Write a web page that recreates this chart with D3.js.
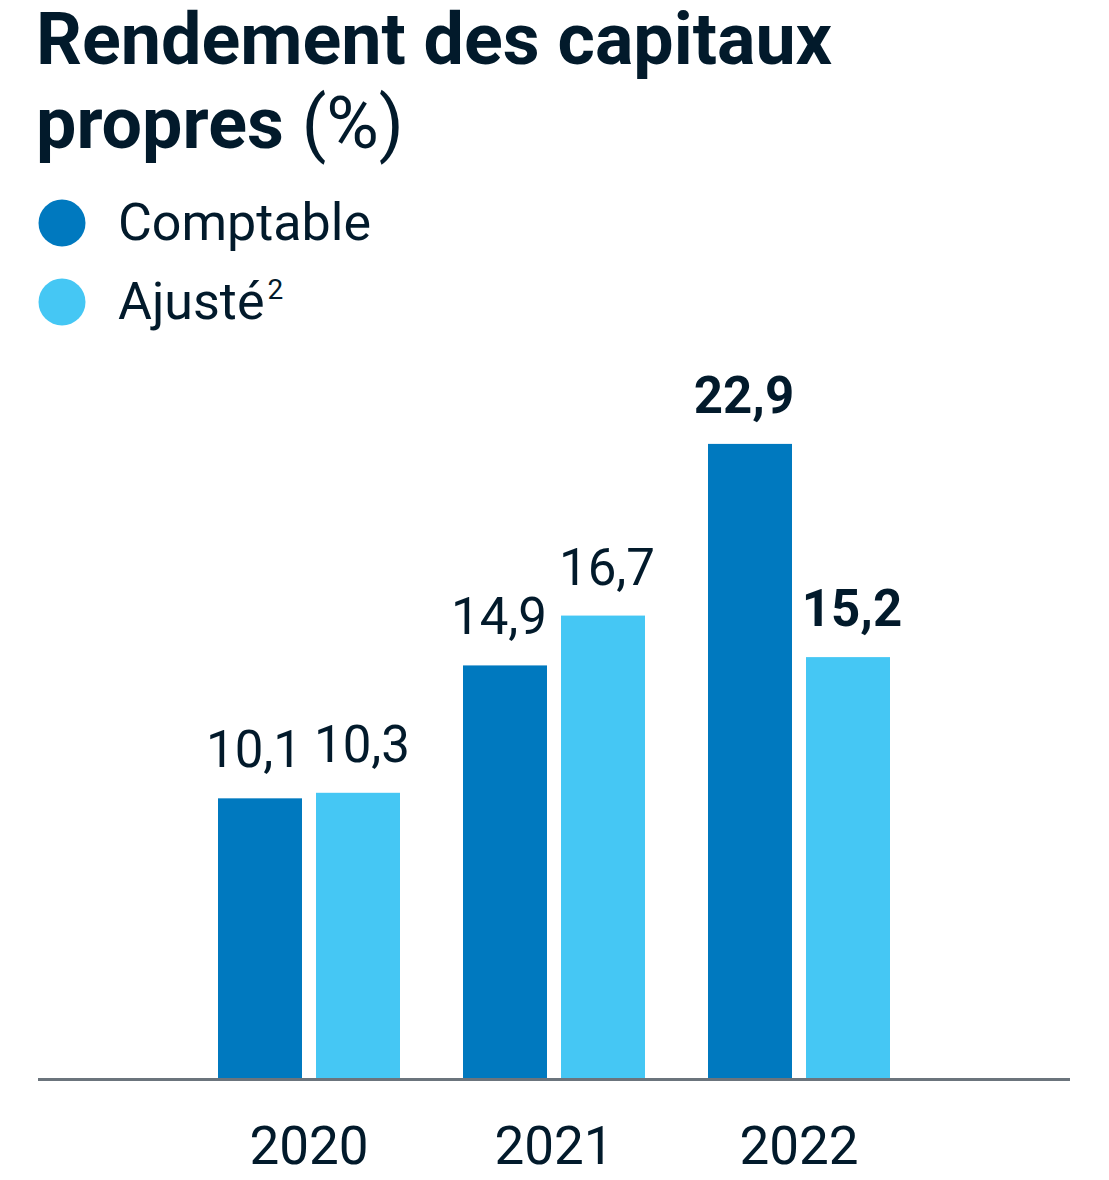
<!DOCTYPE html>
<html>
<head>
<meta charset="utf-8">
<script src="https://cdn.jsdelivr.net/npm/d3@7"></script>
<style>
  body { margin: 0; background: #fff; }
  text { font-family: Roboto, "Noto Sans", sans-serif; }
</style>
</head>
<body>
<div id="chart"></div>
<script>
// data
const years = ["2020", "2021", "2022"];
const series = ["Comptable", "Ajusté"];
const comptable = [10.1, 14.9, 22.9];
const ajuste = [10.3, 16.7, 15.2];
const labelsComptable = ["10,1", "14,9", "22,9"];
const labelsAjuste = ["10,3", "16,7", "15,2"];
const boldYear = "2022";

const W = 1109, H = 1180;
const ink = "#021a2b";
const colours = ["#0079bf", "#45c7f4"];
// labels sit a little apart from each other, like the original
const labelNudge = [-6, 4];

const svg = d3.select("#chart")
  .append("svg")
  .attr("width", W)
  .attr("height", H);

// title
const title = svg.append("text")
  .attr("x", 36)
  .attr("fill", ink)
  .attr("font-size", 71.8);
title.append("tspan")
  .attr("x", 36).attr("y", 64)
  .attr("font-weight", 700)
  .text("Rendement des capitaux");
const t2 = title.append("tspan")
  .attr("x", 36).attr("y", 148);
t2.append("tspan").attr("font-weight", 700).text("propres ");
t2.append("tspan").attr("font-weight", 400).text("(%)");

// legend
const legend = svg.selectAll(".legend")
  .data(series)
  .enter()
  .append("g")
  .attr("class", "legend")
  .attr("transform", (d, i) => "translate(62," + (223 + i * 79) + ")");

legend.append("circle")
  .attr("r", 23.5)
  .attr("fill", (d, i) => colours[i]);

const legText = legend.append("text")
  .attr("x", 56)
  .attr("y", 17)
  .attr("font-size", 52)
  .attr("fill", ink);
legText.append("tspan").text(d => d);
legText.filter((d, i) => i === 1)
  .append("tspan")
  .attr("font-size", 28)
  .attr("dx", 3)
  .attr("dy", -20)
  .text("2");

// scales
const baseY = 1078;
const x = d3.scaleBand()
  .domain(years)
  .range([186.5, 921.5])
  .paddingInner(63 / 245)
  .paddingOuter(31.5 / 245);

const xs = d3.scaleBand()
  .domain(series)
  .range([0, x.bandwidth()])
  .paddingInner(14 / 98);

const y = d3.scaleLinear()
  .domain([0, 25])
  .range([baseY, baseY - 25 * 27.69]);

const rows = years.map((yr, i) => ({
  year: yr,
  values: [
    { key: series[0], value: comptable[i], label: labelsComptable[i] },
    { key: series[1], value: ajuste[i], label: labelsAjuste[i] },
  ],
}));

const groups = svg.selectAll(".group")
  .data(rows)
  .enter()
  .append("g")
  .attr("class", "group")
  .attr("transform", d => "translate(" + x(d.year) + ",0)");

groups.selectAll("rect")
  .data(d => d.values.map(v => Object.assign({ year: d.year }, v)))
  .enter()
  .append("rect")
  .attr("x", d => xs(d.key))
  .attr("y", d => y(d.value))
  .attr("width", xs.bandwidth())
  .attr("height", d => baseY - y(d.value))
  .attr("fill", (d, i) => colours[i]);

groups.selectAll(".val")
  .data(d => d.values.map(v => Object.assign({ year: d.year }, v)))
  .enter()
  .append("text")
  .attr("class", "val")
  .attr("x", (d, i) => xs(d.key) + xs.bandwidth() / 2 + labelNudge[i])
  .attr("y", d => y(d.value) - 31)
  .attr("text-anchor", "middle")
  .attr("font-size", 51)
  .attr("font-weight", d => (d.year === boldYear ? 700 : 400))
  .attr("fill", ink)
  .text(d => d.label);

// axis
const axis = svg.append("g")
  .attr("transform", "translate(0," + baseY + ")")
  .call(d3.axisBottom(x).tickSize(0).tickPadding(86));
axis.select(".domain").remove();
axis.selectAll("text")
  .attr("font-size", 53)
  .attr("font-family", "Roboto")
  .attr("fill", ink)
  .attr("dy", 0);

svg.append("line")
  .attr("x1", 38)
  .attr("x2", 1070)
  .attr("y1", baseY + 1.5)
  .attr("y2", baseY + 1.5)
  .attr("stroke", "#6b747c")
  .attr("stroke-width", 3);
</script>
</body>
</html>
